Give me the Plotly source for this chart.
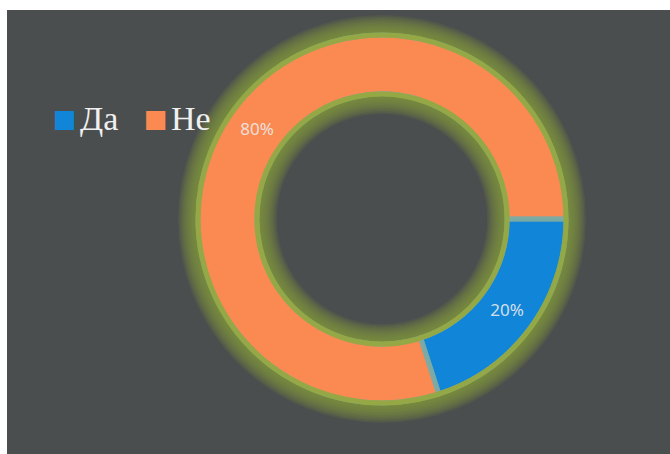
import plotly.graph_objects as go

# Survey answers
labels = ["Да", "Не"]
values = [20, 80]
colors = ["#1185d8", "#fb8a52"]

BG = "#4b4e4e"
GLOW = (135, 155, 58)
RIM = (150, 168, 62)

# Donut placement (paper fractions)
cx, cy, r = 382 / 670, 1 - 219 / 454, 184
dom_x = [cx - r / 670, cx + r / 670]
dom_y = [cy - r / 454, cy + r / 454]
HOLE = 0.68

fig = go.Figure()

# Soft halo along both rims: stacked transparent rings with wide outlines
for width in range(40, 3, -3):
    fig.add_trace(go.Pie(
        labels=["halo"], values=[1], hole=HOLE, sort=False,
        domain=dict(x=dom_x, y=dom_y),
        marker=dict(colors=["rgba(0,0,0,0)"],
                    line=dict(color=f"rgba({GLOW[0]},{GLOW[1]},{GLOW[2]},0.13)", width=width)),
        textinfo="none", hoverinfo="skip", showlegend=False,
    ))

# Data donut
fig.add_trace(go.Pie(
    labels=labels, values=values, hole=HOLE, sort=False,
    direction="clockwise", rotation=90,
    domain=dict(x=dom_x, y=dom_y),
    marker=dict(colors=colors, line=dict(width=0)),
    textinfo="percent", textposition="inside", insidetextorientation="horizontal",
    textfont=dict(family="Noto Sans", size=17, color="rgba(235,235,235,0.9)"),
    showlegend=False,
))

# Slice separators
fig.add_trace(go.Pie(
    labels=labels, values=values, hole=HOLE, sort=False,
    direction="clockwise", rotation=90,
    domain=dict(x=dom_x, y=dom_y),
    marker=dict(colors=["rgba(0,0,0,0)"] * 2,
                line=dict(color="rgba(125,170,165,0.85)", width=5)),
    textinfo="none", hoverinfo="skip", showlegend=False,
))

# Rim over the arcs, blending into the halo
fig.add_trace(go.Pie(
    labels=["rim"], values=[1], hole=HOLE, sort=False,
    domain=dict(x=dom_x, y=dom_y),
    marker=dict(colors=["rgba(0,0,0,0)"],
                line=dict(color=f"rgba({RIM[0]},{RIM[1]},{RIM[2]},0.92)", width=5)),
    textinfo="none", hoverinfo="skip", showlegend=False,
))

# Legend drawn as text: coloured square followed by the label
legend_x = [51, 142]
annotations = []
for lab, col, x0 in zip(labels, colors, legend_x):
    annotations.append(dict(
        xref="paper", yref="paper", x=x0 / 670, y=1 - 119 / 454,
        xanchor="left", yanchor="middle", showarrow=False,
        text="■",
        font=dict(family="DejaVu Sans", size=25, color=col),
    ))
    annotations.append(dict(
        xref="paper", yref="paper", x=(x0 + 27) / 670, y=1 - 118 / 454,
        xanchor="left", yanchor="middle", showarrow=False,
        text=lab,
        font=dict(family="Liberation Serif", size=34, color="#f0f0f0"),
    ))

fig.update_layout(
    width=670, height=454,
    margin=dict(l=0, r=0, t=0, b=0),
    paper_bgcolor="white",
    plot_bgcolor=BG,
    showlegend=False,
    annotations=annotations,
    shapes=[dict(
        type="rect", xref="paper", yref="paper", layer="below",
        x0=7 / 670, x1=1, y0=0, y1=1 - 10 / 454,
        fillcolor=BG, line=dict(width=0),
    )],
)

fig.write_html("out.html")
